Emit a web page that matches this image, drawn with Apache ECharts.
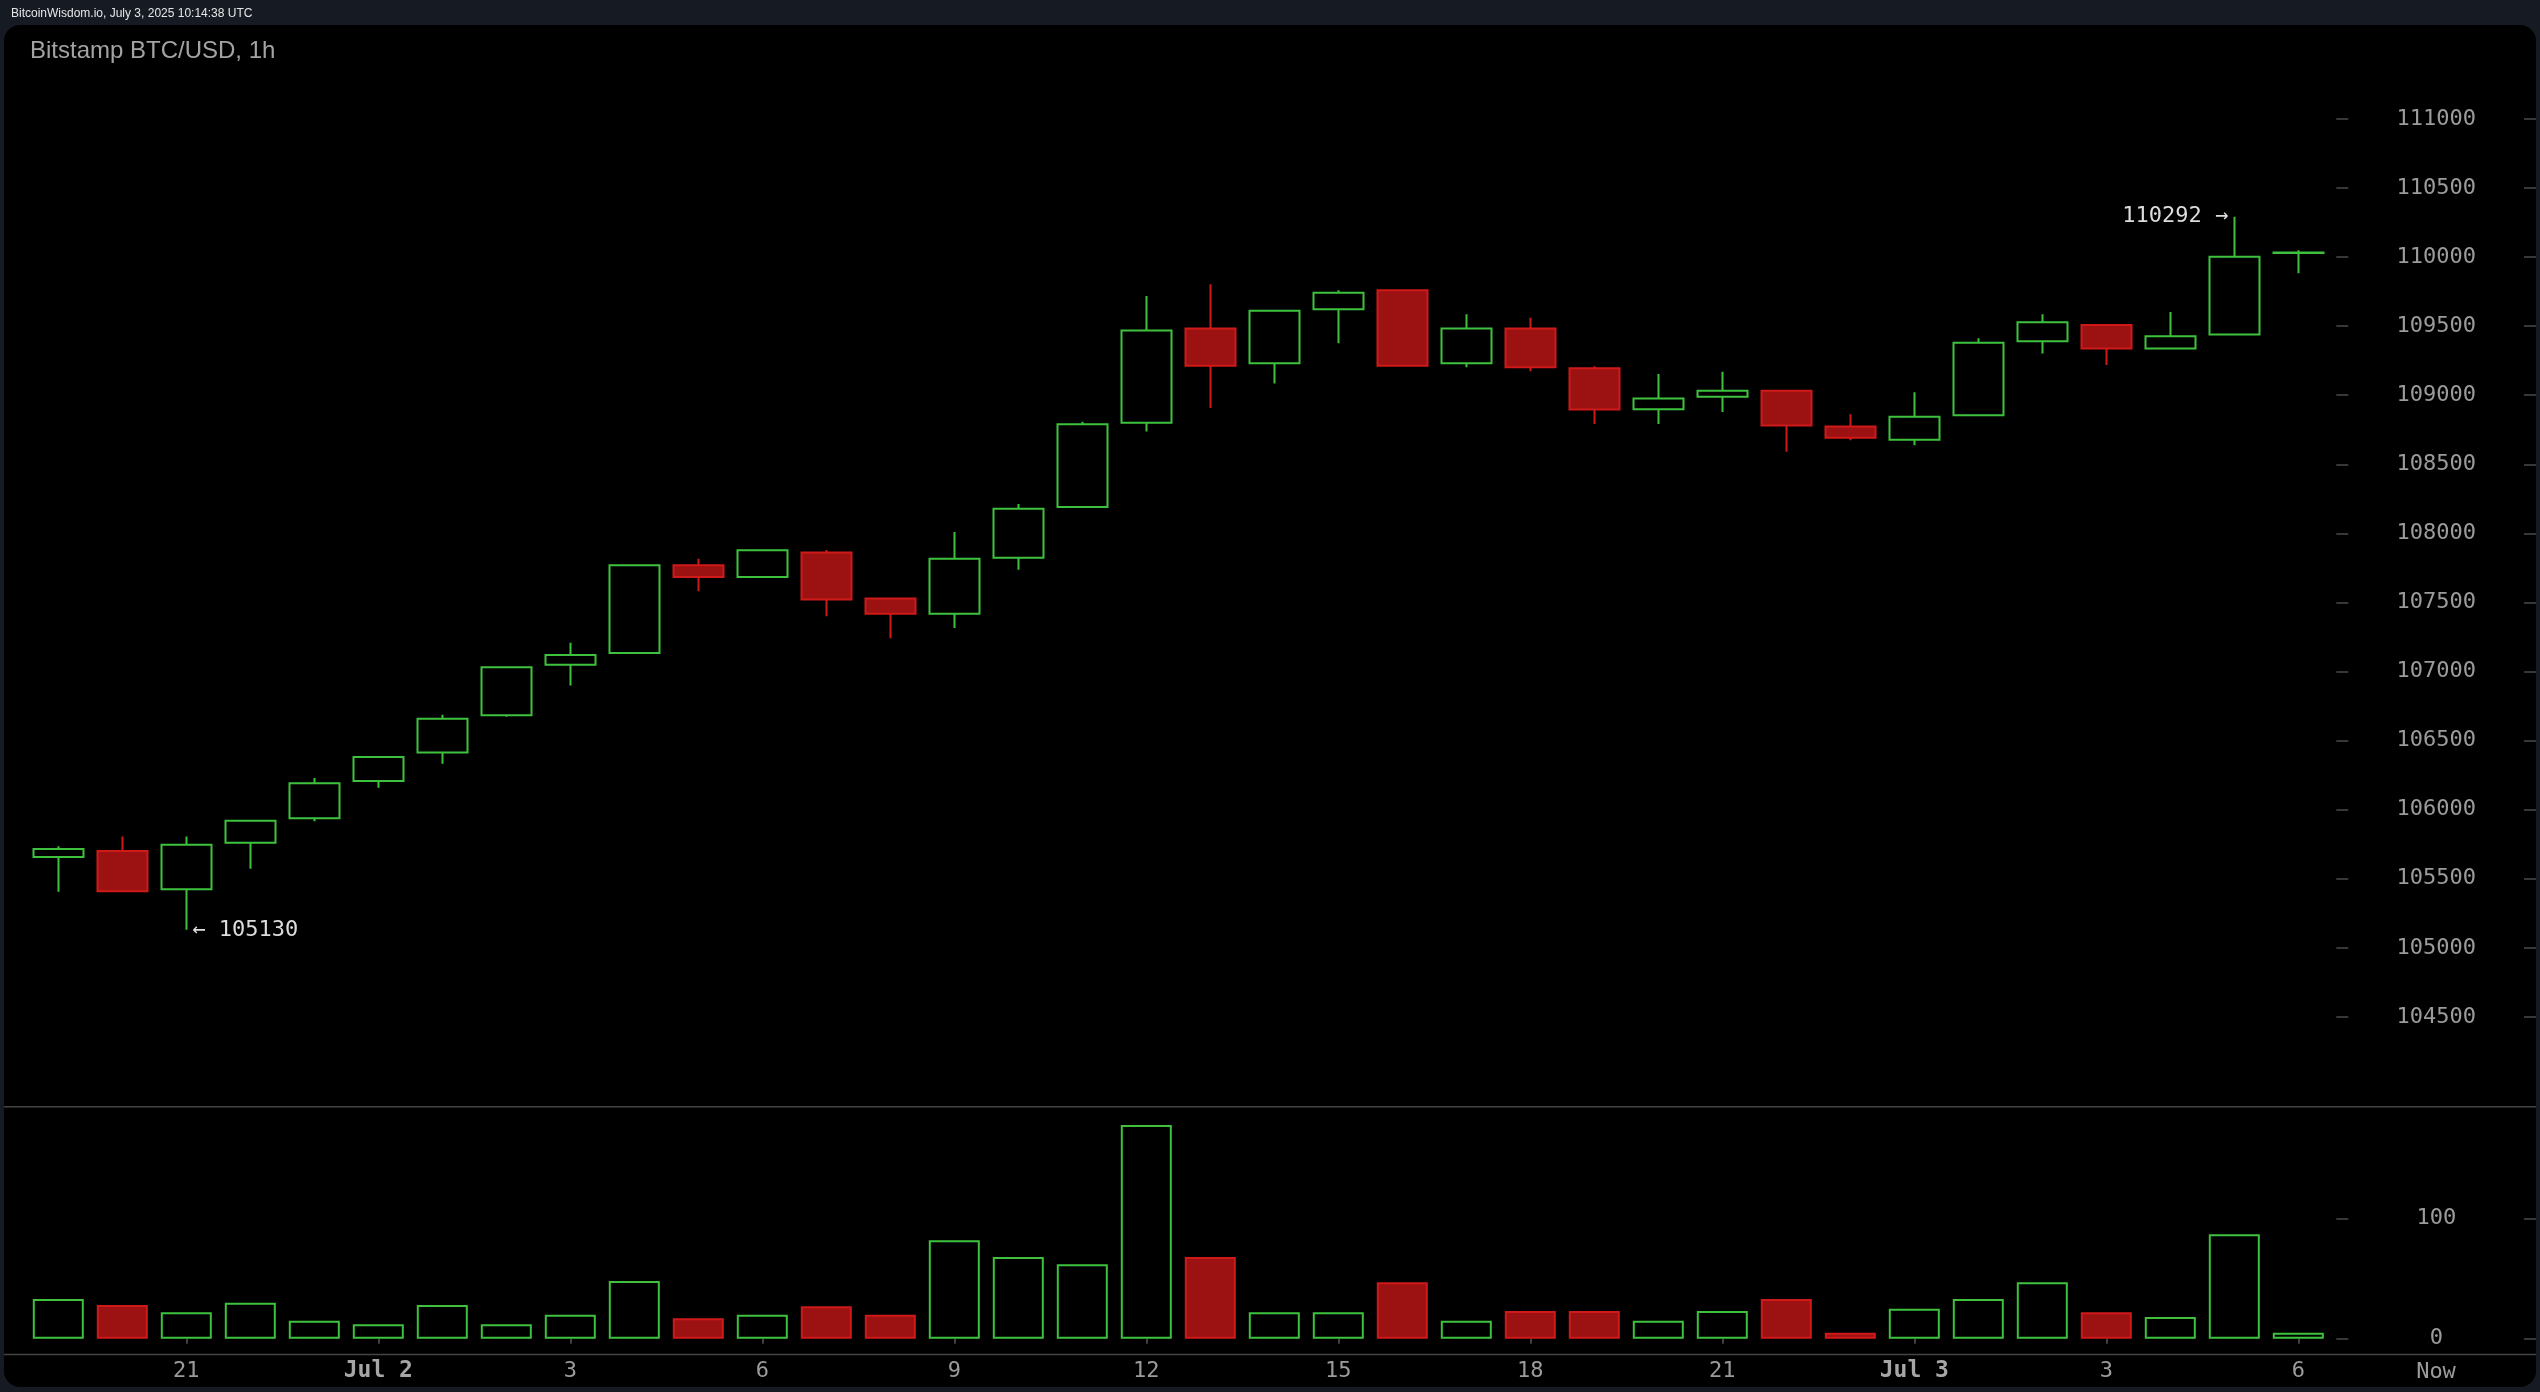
<!DOCTYPE html>
<html>
<head>
<meta charset="utf-8">
<script src="https://cdn.jsdelivr.net/npm/echarts@6/dist/echarts.min.js"></script>
<style>
html,body{margin:0;padding:0;background:#151a23;}
#c{width:2540px;height:1392px;}
</style>
</head>
<body>
<div id="c"></div>
<script>
// ---- data ----
const hours = ["19","20","21","22","23","Jul 2","1","2","3","4","5","6","7","8","9","10","11","12",
  "13","14","15","16","17","18","19","20","21","22","23","Jul 3","1","2","3","4","5","6"];
const opens  = [105657,105701,105424,105760,105937,106207,106414,106684,107049,107134,107769,107685,
  107862,107529,107418,107824,108191,108800,109483,109232,109623,109760,109232,109483,
  109195,108899,108988,109033,108774,108678,108855,109391,109509,109338,109439,110030];
const closes = [105716,105410,105746,105919,106192,106381,106658,107031,107119,107769,107685,107877,
  107522,107418,107817,108179,108789,109468,109214,109612,109741,109214,109483,109203,
  108896,108977,109033,108781,108692,108844,109379,109528,109338,109426,110003,110033];
const lows   = [105406,105410,105130,105572,105916,106159,106333,106673,106898,107134,107581,107685,
  107400,107241,107315,107736,108191,108737,108907,109084,109376,109214,109203,109173,
  108792,108792,108878,108590,108674,108637,108855,109302,109218,109338,109439,109883];
const highs  = [105735,105805,105805,105919,106229,106381,106687,107031,107208,107769,107817,107877,
  107880,107529,108010,108212,108807,109719,109804,109612,109760,109760,109586,109560,
  109210,109154,109169,109033,108862,109022,109413,109586,109509,109602,110292,110049];
const volumes = [33,28,22,30,15,12,28,12,20,48,17,20,27,20,82,68,62,178,68,22,
  22,47,15,23,23,15,23,33,5,25,33,47,22,18,87,5];
const priceTicks = {min:104500, max:111000, step:500};
const volTicks = {min:0, max:100, step:100};

// ---- styling ----
const MONO = '"DejaVu Sans Mono", monospace';
const GREEN = '#3ec23e', RED_B = '#d01a1a', RED_F = '#9c1111';
const AX = '#9b9b9b', TICK = '#4a4a4a';

const candleData = opens.map((o,i)=>[o, closes[i], lows[i], highs[i]]);
const volData = volumes.map((v,i)=>{
  const up = closes[i] >= opens[i];
  return {value:v, itemStyle:{color: up ? '#000' : RED_F, borderColor: up ? GREEN : RED_B, borderWidth:2}};
});
let hiIdx = 0, loIdx = 0;
highs.forEach((h,i)=>{ if (h > highs[hiIdx]) hiIdx = i; });
lows.forEach((l,i)=>{ if (l < lows[loIdx]) loIdx = i; });

const showIdx = (i)=> i % 3 === 2;
const GL = 26.3, GW = 2304;

const chart = echarts.init(document.getElementById('c'), null, {renderer:'canvas'});
const yBase = (grid, t, offset, labels) => ({
  type:'value', gridIndex:grid, position:'right', offset:offset,
  min:t.min, max:t.max, interval:t.step, scale:false,
  axisLine:{show:false}, splitLine:{show:false},
  axisTick:{show:true, length:12, lineStyle:{color:TICK, width:1.5}},
  axisLabel:{show:labels, margin:100, align:'center', verticalAlign:'middle', fontFamily:MONO, fontSize:22, color:AX,
    formatter:(v)=>String(v)}
});

chart.setOption({
  animation:false,
  backgroundColor:'#151a23',
  graphic:[
    {type:'rect', z:-10, shape:{x:4, y:25, width:2532, height:1362, r:16}, style:{fill:'#000'}},
    {type:'text', x:11, y:13.5, style:{text:'BitcoinWisdom.io, July 3, 2025 10:14:38 UTC', font:'12px "Liberation Sans", Arial, sans-serif', fill:'#e6e6e6', verticalAlign:'middle'}},
    {type:'text', x:30, y:51, style:{text:'Bitstamp BTC/USD, 1h', font:'24px "Liberation Sans", Arial, sans-serif', fill:'#a3a3a3', verticalAlign:'middle'}},
    {type:'line', shape:{x1:4, y1:1106.7, x2:2536, y2:1106.7}, style:{stroke:'#444', lineWidth:1.5}},
    {type:'line', shape:{x1:4, y1:1354.5, x2:2536, y2:1354.5}, style:{stroke:'#444', lineWidth:1.5}},
    {type:'text', x:2436, y:1372, style:{text:'Now', font:'22px "DejaVu Sans Mono", monospace', fill:AX, align:'center', verticalAlign:'middle'}}
  ],
  grid:[
    {left:GL, width:GW, top:118.9, height:898},
    {left:GL, width:GW, top:1218.7, height:120}
  ],
  xAxis:[
    {type:'category', gridIndex:0, data:hours, boundaryGap:true,
      axisLine:{show:false}, axisTick:{show:false}, axisLabel:{show:false}, splitLine:{show:false}},
    {type:'category', gridIndex:1, data:hours, boundaryGap:true, offset:15.8,
      axisLine:{show:false},
      axisTick:{show:true, inside:false, alignWithLabel:true, interval:(i)=>showIdx(i), length:5, lineStyle:{color:'#555', width:1.5}},
      axisLabel:{interval:(i)=>showIdx(i), margin:17, verticalAlign:'middle', fontFamily:MONO, fontSize:22, color:AX,
        formatter:(v)=> v.indexOf('Jul')===0 ? '{m|'+v+'}' : v,
        rich:{m:{fontFamily:MONO, fontSize:23, fontWeight:'bold', color:'#a6a6a6'}}},
      splitLine:{show:false}}
  ],
  yAxis:[
    yBase(0, priceTicks, 6, true),
    yBase(0, priceTicks, 193.7, false),
    yBase(1, volTicks, 6, true),
    yBase(1, volTicks, 193.7, false)
  ],
  series:[
    {type:'candlestick', xAxisIndex:0, yAxisIndex:0, data:candleData, barWidth:51,
      itemStyle:{color:'#000', color0:RED_F, borderColor:GREEN, borderColor0:RED_B, borderWidth:2},
      markPoint:{symbol:'circle', symbolSize:0, animation:false,
        label:{fontFamily:MONO, fontSize:22, color:'#dcdcdc'},
        data:[
          {coord:[hiIdx, highs[hiIdx]], value:highs[hiIdx], label:{position:'left', distance:6, formatter:(p)=>p.value+' →'}},
          {coord:[loIdx, lows[loIdx]], value:lows[loIdx], label:{position:'right', distance:6, formatter:(p)=>'← '+p.value}}
        ]}
    },
    {type:'bar', xAxisIndex:1, yAxisIndex:2, data:volData, barWidth:51, clip:false}
  ]
});
</script>
</body>
</html>
